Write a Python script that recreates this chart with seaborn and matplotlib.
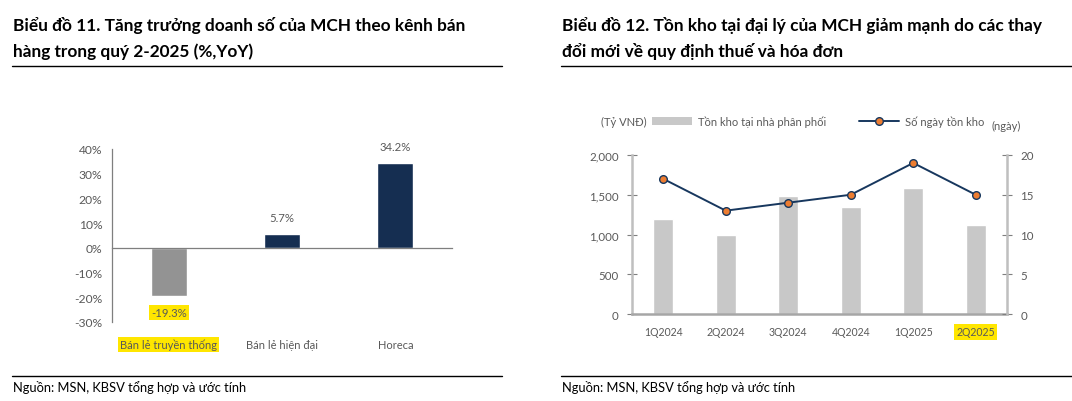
import numpy as np
import seaborn as sns
import matplotlib.pyplot as plt
from matplotlib.lines import Line2D
from matplotlib.patches import Patch

sns.set_style("white")
plt.rcParams['font.family'] = ['Lato', 'DejaVu Sans']

# chart 11 data
channels = ["Bán lẻ truyền thống", "Bán lẻ hiện đại", "Horeca"]
growth = [-19.3, 5.7, 34.2]
growth_ticks = [-30, -20, -10, 0, 10, 20, 30, 40]

# chart 12 data
quarters = ["1Q2024", "2Q2024", "3Q2024", "4Q2024", "1Q2025", "2Q2025"]
inventory = [1200, 1000, 1480, 1350, 1580, 1120]
days = [17, 13, 14, 15, 19, 15]
inv_ticks = [0, 500, 1000, 1500, 2000]
day_ticks = [0, 5, 10, 15, 20]

NAVY = "#0B2D5B"
GRAY_BAR = "#939393"
LIGHT_BAR = "#C8C8C8"
LINE = "#17375E"
ORANGE = "#ED7D31"
TXT = "#595959"
YELLOW = "#FFE600"

W, H = 1072, 402
fig = plt.figure(figsize=(W / 100, H / 100), dpi=100)

def px(x, y):
    return x / W, 1 - y / H

# titles, rules, source
for x0, x1, lines in [(13, 502, ["Biểu đồ 11. Tăng trưởng doanh số của MCH theo kênh bán",
                                 "hàng trong quý 2-2025 (%,YoY)"]),
                      (562, 1072, ["Biểu đồ 12. Tồn kho tại đại lý của MCH giảm mạnh do các thay",
                                   "đổi mới về quy định thuế và hóa đơn"])]:
    fig.text(*px(x0, 31), lines[0], fontsize=12.4, fontweight='bold', va='baseline', color='black')
    fig.text(*px(x0, 57), lines[1], fontsize=12.4, fontweight='bold', va='baseline', color='black')
    for yy in (66.5, 377):
        fig.add_artist(Line2D([(x0 - 1) / W, x1 / W], [1 - yy / H] * 2, color='black', lw=1))
    fig.text(*px(x0, 392), "Nguồn: MSN, KBSV tổng hợp và ước tính", fontsize=9.3, va='baseline', color='black')

# ---- chart 11
ax = fig.add_axes([112 / W, 1 - 323 / H, 340 / W, 173 / H])
sns.barplot(x=channels, y=growth, hue=channels, palette=[GRAY_BAR, NAVY, NAVY],
            legend=False, width=0.32, ax=ax)
ax.set_ylim(-30, 40)
ax.set_xlim(-0.5, 2.5)
ax.set_yticks(growth_ticks, [f"{t}%" for t in growth_ticks])
ax.set_xticks([-0.5, 0.5, 1.5, 2.5], ["", "", "", ""])
ax.set_xlabel("")
ax.set_ylabel("")
ax.spines[['top', 'right']].set_visible(False)
ax.spines['bottom'].set_position(('data', 0))
for s in ('left', 'bottom'):
    ax.spines[s].set_color('#7F7F7F')
    ax.spines[s].set_linewidth(0.9)
ax.tick_params(axis='y', direction='out', length=4, color='#7F7F7F', labelsize=8.7, labelcolor=TXT, pad=3)
ax.tick_params(axis='x', direction='in', length=4, color='#7F7F7F')
for c in ax.containers:
    lab = ax.bar_label(c, labels=[f"{v:.1f}%" for v in c.datavalues], padding=8,
                       fontsize=8.2, color=TXT)
    for t, v in zip(lab, c.datavalues):
        if v < 0:
            t.set_bbox(dict(facecolor=YELLOW, edgecolor='none', pad=1.5))
for i, name in enumerate(channels):
    t = ax.annotate(name, xy=(i, 0), xycoords=('data', 'axes fraction'), xytext=(0, -12),
                    textcoords='offset points', ha='center', va='top', fontsize=8, color=TXT)
    if i == 0:
        t.set_bbox(dict(facecolor=YELLOW, edgecolor='none', pad=1.5))

# ---- chart 12
ax1 = fig.add_axes([632 / W, 1 - 315 / H, 375 / W, 159 / H])
sns.barplot(x=quarters, y=inventory, color=LIGHT_BAR, width=0.32, ax=ax1)
ax2 = ax1.twinx()
sns.lineplot(x=np.arange(len(quarters)), y=days, ax=ax2, color=LINE, lw=1.4, marker='o',
             markersize=5.5, markerfacecolor=ORANGE, markeredgecolor=LINE, markeredgewidth=1)
ax1.set_ylim(0, 2000)
ax2.set_ylim(0, 20)
ax1.set_xlim(-0.5, len(quarters) - 0.5)
ax1.set_yticks(inv_ticks, [f"{t:,}" for t in inv_ticks])
ax2.set_yticks(day_ticks, [str(t) for t in day_ticks])
ax1.set_xticks(range(len(quarters)), quarters)
ax1.set_xticks(np.arange(-0.5, len(quarters)), minor=True)
for a in (ax1, ax2):
    a.set_xlabel("")
    a.set_ylabel("")
    a.spines['top'].set_visible(False)
    for s in ('left', 'right', 'bottom'):
        a.spines[s].set_color('#BFBFBF')
        a.spines[s].set_linewidth(1.8)
ax1.spines['right'].set_visible(False)
ax2.spines['left'].set_visible(False)
ax2.spines['bottom'].set_visible(False)
ax1.spines['bottom'].set_color('#A6A6A6')
ax1.tick_params(axis='y', direction='inout', length=7, color='#7F7F7F', labelsize=8.3, labelcolor=TXT, pad=6)
ax2.tick_params(axis='y', direction='inout', length=7, color='#7F7F7F', labelsize=8.3, labelcolor=TXT, pad=6)
ax1.tick_params(axis='x', which='major', length=0, labelsize=7.6, labelcolor=TXT, pad=9)
ax1.tick_params(axis='x', which='minor', direction='in', length=4, color='#7F7F7F')
ax1.get_xticklabels()[-1].set_bbox(dict(facecolor=YELLOW, edgecolor='none', pad=1.5))

handles = [Patch(facecolor=LIGHT_BAR, edgecolor='none'),
           Line2D([], [], color=LINE, lw=1.4, marker='o', markersize=5.5,
                  markerfacecolor=ORANGE, markeredgecolor=LINE)]
fig.legend(handles, ["Tồn kho tại nhà phân phối", "Số ngày tồn kho"], loc='center left',
           bbox_to_anchor=px(652, 122), ncol=2, frameon=False, fontsize=8, labelcolor=TXT,
           handlelength=3.6, handletextpad=0.5, columnspacing=3.0, borderpad=0, borderaxespad=0)
fig.text(*px(601, 122), "(Tỷ VNĐ)", fontsize=8, color=TXT, va='center')
fig.text(*px(992, 126), "(ngày)", fontsize=8, color=TXT, va='center')

fig.savefig("out.png", dpi=100)
